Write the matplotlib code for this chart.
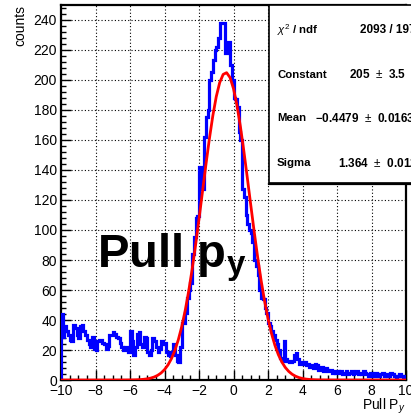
import numpy as np
import matplotlib
matplotlib.use('Agg')
import matplotlib.pyplot as plt
from matplotlib.patches import Rectangle
from matplotlib.ticker import MultipleLocator

plt.rcParams['font.family'] = ['Liberation Sans', 'DejaVu Sans']
plt.rcParams['mathtext.fontset'] = 'custom'
plt.rcParams['mathtext.rm'] = 'Liberation Sans'
plt.rcParams['mathtext.it'] = 'Liberation Sans:italic'
plt.rcParams['mathtext.bf'] = 'Liberation Sans:bold'

# 200 bins from -10 to 10
bin_edges = np.linspace(-10, 10, 201)
counts = [
    44, 29, 36, 33, 30, 27, 26, 37, 35, 30,
    28, 36, 37, 33, 30, 27, 24, 22, 29, 21,
    20, 26, 27, 27, 25, 24, 21, 23, 30, 30,
    32, 31, 29, 28, 25, 22, 20, 22, 21, 19,
    33, 26, 17, 22, 31, 32, 24, 22, 29, 28,
    19, 17, 20, 28, 26, 22, 19, 21, 26, 24,
    25, 19, 17, 16, 19, 24, 17, 13, 12, 22,
    38, 38, 45, 55, 60, 65, 84, 95, 108, 109,
    142, 140, 127, 162, 175, 180, 200, 205, 213, 220,
    222, 228, 238, 238, 238, 218, 222, 225, 210, 200,
    188, 187, 182, 165, 160, 127, 122, 110, 104, 100,
    98, 92, 80, 76, 70, 60, 55, 54, 48, 45,
    38, 36, 33, 30, 27, 24, 20, 15, 13, 26,
    14, 13, 12, 12, 13, 17, 18, 14, 11, 12,
    11, 12, 10, 11, 9, 10, 8, 11, 10, 7,
    8, 9, 6, 8, 7, 6, 7, 5, 6, 5,
    6, 5, 6, 4, 5, 6, 4, 5, 6, 4,
    5, 6, 4, 5, 4, 6, 5, 4, 3, 5,
    4, 3, 5, 4, 3, 4, 5, 3, 4, 3,
    3, 5, 4, 3, 2, 3, 4, 3, 2, 3,
]

# gaussian fit parameters (from the stats box)
fit_constant = 205.0
fit_mean = -0.4479
fit_sigma = 1.364

stat_labels = ['$\\chi^2$ / ndf', 'Constant', 'Mean', 'Sigma']
stat_values = ['2093 / 197', '205  $\\pm$  3.5', '\u22120.4479  $\\pm$  0.0163', '1.364  $\\pm$  0.012']

W, H = 411, 415
fig = plt.figure(figsize=(W / 100, H / 100), dpi=100)
ax = fig.add_axes([61 / W, 1 - 380 / H, 345 / W, 375 / H])

ax.stairs(counts, bin_edges, baseline=0, color='#0000ff', lw=2.3, zorder=3)

xf = np.linspace(-10, 10, 101)
yf = fit_constant * np.exp(-0.5 * ((xf - fit_mean) / fit_sigma) ** 2)
ax.plot(xf, yf, color='#ff0000', lw=2.0, zorder=4)

ax.set_xlim(-10, 10)
ax.set_ylim(0, 250)
ax.xaxis.set_major_locator(MultipleLocator(2))
ax.xaxis.set_minor_locator(MultipleLocator(0.5))
ax.yaxis.set_major_locator(MultipleLocator(20))
ax.yaxis.set_minor_locator(MultipleLocator(4))
ax.tick_params(which='both', direction='in', top=False, right=False, width=1.0, labelsize=10)
ax.tick_params(which='major', length=7)
ax.tick_params(which='minor', length=3.5)
ax.tick_params(axis='x', pad=3)
ax.tick_params(axis='y', pad=3)
ax.grid(True, which='major', color='black', linestyle=(0, (1, 2)), lw=0.8)
ax.set_axisbelow(True)
for s in ax.spines.values():
    s.set_linewidth(1.6)

ax.text(1.0, -0.045, 'Pull P$_y$', transform=ax.transAxes, ha='right', va='top', fontsize=10)
fig.text(20 / W, 1 - 5 / H, 'counts', rotation=90, ha='center', va='top', fontsize=10)

ax.text(-7.9, 75, 'Pull p$_\\mathbf{y}$', fontsize=34, fontweight='bold', ha='left', va='baseline', zorder=5)

# stats box
box = Rectangle((269 / W, 1 - 183 / H), 0.6, 178 / H, transform=fig.transFigure,
                facecolor='white', edgecolor='black', lw=1.2, zorder=10)
fig.add_artist(box)
fig.add_artist(plt.Line2D([269 / W, 1.0], [1 - 184 / H, 1 - 184 / H], transform=fig.transFigure,
                          color='black', lw=1.6, zorder=11))
row_y = [30, 75, 118, 163]
val_x = [360, 349, 315, 338]
for lab, val, y, vx in zip(stat_labels, stat_values, row_y, val_x):
    fig.text(277 / W, 1 - y / H, lab, ha='left', va='center', fontsize=8.2, fontweight='bold', zorder=12)
    fig.text(vx / W, 1 - y / H, val, ha='left', va='center', fontsize=8.5, fontweight='bold', zorder=12)

fig.savefig('out.png', dpi=100)
